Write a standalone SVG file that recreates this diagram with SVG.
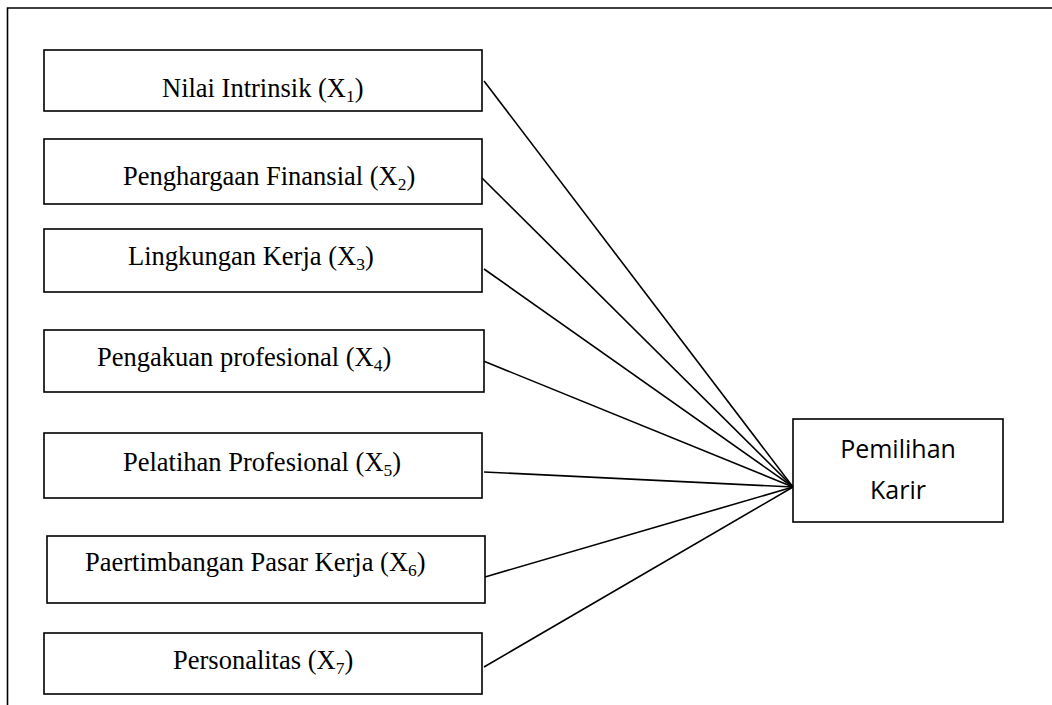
<svg xmlns="http://www.w3.org/2000/svg" width="1052" height="705" viewBox="0 0 1052 705">
<style>
.frame{fill:none;stroke:#000;stroke-width:1.6}
.box{fill:#fff;stroke:#000;stroke-width:1.6}
.lbl{font-family:"Liberation Serif","Times New Roman",serif;font-size:26.5px;fill:#000}
.sub{font-size:17.5px}
.lbl2{font-family:"Open Sans","Noto Sans",sans-serif;font-size:25px;fill:#000;text-anchor:middle}
.conn line{stroke:#000;stroke-width:1.6}
</style>
<rect width="1052" height="705" fill="#fff"/>
<path class="frame" d="M7.5 705 V8 H1052"/>
<g class="conn" id="connectors">
<line x1="484" y1="81" x2="793" y2="487"/>
<line x1="482" y1="178" x2="793" y2="487"/>
<line x1="484" y1="269" x2="793" y2="487"/>
<line x1="481" y1="360" x2="793" y2="487"/>
<line x1="484" y1="472" x2="793" y2="487"/>
<line x1="485" y1="577" x2="793" y2="487"/>
<line x1="484" y1="667" x2="793" y2="487"/>
</g>
<g id="x1"><rect class="box" x="44" y="50" width="438" height="61"/>
<text class="lbl" x="162" y="97">Nilai Intrinsik (X<tspan class="sub" dy="5">1</tspan><tspan dy="-5">)</tspan></text></g>
<g id="x2"><rect class="box" x="44" y="139" width="438" height="65"/>
<text class="lbl" x="123" y="185">Penghargaan Finansial (X<tspan class="sub" dy="5">2</tspan><tspan dy="-5">)</tspan></text></g>
<g id="x3"><rect class="box" x="44" y="229" width="438" height="63"/>
<text class="lbl" x="128" y="265">Lingkungan Kerja (X<tspan class="sub" dy="5">3</tspan><tspan dy="-5">)</tspan></text></g>
<g id="x4"><rect class="box" x="44" y="330" width="440" height="62"/>
<text class="lbl" x="97" y="366">Pengakuan profesional (X<tspan class="sub" dy="5">4</tspan><tspan dy="-5">)</tspan></text></g>
<g id="x5"><rect class="box" x="44" y="433" width="438" height="65"/>
<text class="lbl" x="123" y="471">Pelatihan Profesional (X<tspan class="sub" dy="5">5</tspan><tspan dy="-5">)</tspan></text></g>
<g id="x6"><rect class="box" x="47" y="536" width="438" height="67"/>
<text class="lbl" x="85" y="571">Paertimbangan Pasar Kerja (X<tspan class="sub" dy="5">6</tspan><tspan dy="-5">)</tspan></text></g>
<g id="x7"><rect class="box" x="44" y="633" width="438" height="61"/>
<text class="lbl" x="173" y="669">Personalitas (X<tspan class="sub" dy="5">7</tspan><tspan dy="-5">)</tspan></text></g>
<g id="y"><rect class="box" x="793" y="419" width="210" height="103"/>
<text class="lbl2" x="898" y="458">Pemilihan</text>
<text class="lbl2" x="898" y="499">Karir</text></g>
</svg>
